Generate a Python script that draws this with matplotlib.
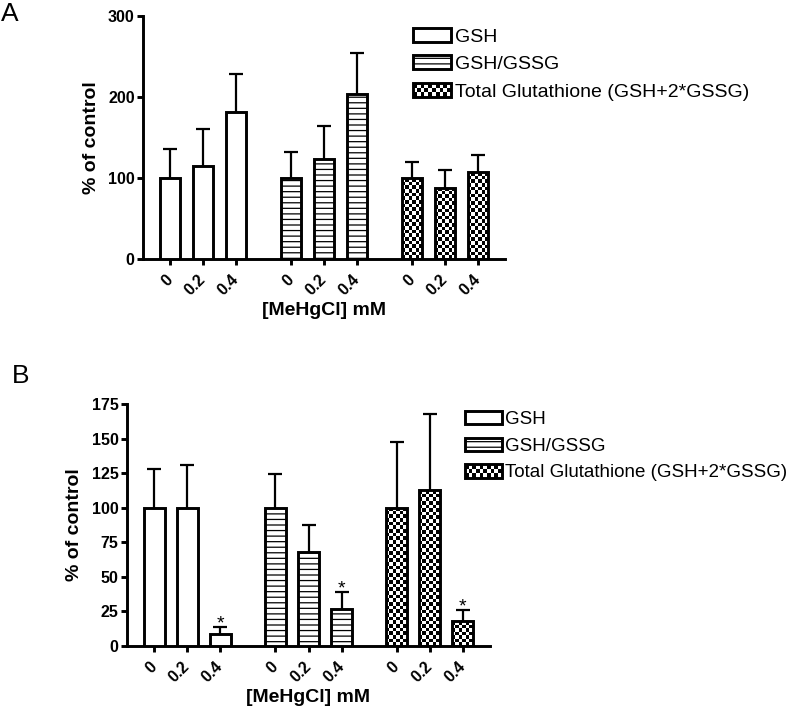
import matplotlib

matplotlib.use("Agg")
import matplotlib.pyplot as plt
import numpy as np
from matplotlib.legend_handler import HandlerBase
from matplotlib.patches import Rectangle

plt.rcParams["font.family"] = ["Liberation Sans", "DejaVu Sans"]
plt.rcParams["hatch.linewidth"] = 0.9

DOSES = ["0", "0.2", "0.4"]
SERIES = ["GSH", "GSH/GSSG", "Total Glutathione (GSH+2*GSSG)"]

# Panel A
A_GSH = [100, 115, 181]
A_GSH_ERR = [36, 45, 47]
A_RATIO = [100, 123, 204]
A_RATIO_ERR = [32, 41, 50]
A_TOTAL = [100, 88, 107]
A_TOTAL_ERR = [20, 22, 21]

# Panel B
B_GSH = [100, 100, 8.7]
B_GSH_ERR = [28, 31, 5]
B_RATIO = [100, 68, 26.7]
B_RATIO_ERR = [24.5, 19.5, 12.5]
B_TOTAL = [100, 112.8, 18]
B_TOTAL_ERR = [47.5, 55, 8]
B_SIGNIF = [[False, False, True], [False, False, True], [False, False, True]]

A_YTICKS = [0, 100, 200, 300]
B_YTICKS = [0, 25, 50, 75, 100, 125, 150, 175]

GROUP_STEP = 3.67
BAR_WIDTH = 0.63
LW = 2.1
CELL_PX = 3.6


def checker_fill(ax, bar):
    x0, y0 = bar.get_x(), bar.get_y()
    w, h = bar.get_width(), bar.get_height()
    (px0, py0), (px1, py1) = ax.transData.transform([(x0, y0), (x0 + w, y0 + h)])
    nx = max(1, int(round((px1 - px0) / CELL_PX)))
    ny = max(1, int(round((py1 - py0) / CELL_PX)))
    grid = np.add.outer(np.arange(ny), np.arange(nx)) % 2
    im = ax.imshow(grid, cmap="gray", extent=(x0, x0 + w, y0, y0 + h), origin="lower",
                   interpolation="nearest", aspect="auto", zorder=2)
    im.set_clip_path(bar)


class CheckerHandler(HandlerBase):
    def create_artists(self, legend, orig_handle, xdescent, ydescent, width, height, fontsize, trans):
        artists = []
        nx, ny = 10, 3
        cw, ch = width / nx, height / ny
        for i in range(nx):
            for j in range(ny):
                if (i + j) % 2 == 0:
                    artists.append(Rectangle((-xdescent + i * cw, -ydescent + j * ch), cw, ch,
                                             facecolor="black", edgecolor="none", transform=trans))
        artists.append(Rectangle((-xdescent, -ydescent), width, height, facecolor="none",
                                 edgecolor="black", linewidth=LW, transform=trans))
        return artists


def draw_panel(fig, rect, values, errors, yticks, legend_anchor, legend_size, signif=None):
    ax = fig.add_axes(rect)
    ymax = yticks[-1]
    ax.set_xlim(-0.82, 2 * GROUP_STEP + 2 + 0.82)
    ax.set_ylim(0, ymax)

    positions = []
    handles = []
    for g, (vals, errs) in enumerate(zip(values, errors)):
        x = g * GROUP_STEP + np.arange(len(DOSES))
        positions.extend(x)
        if g == 0:
            bars = ax.bar(x, vals, BAR_WIDTH, facecolor="white", edgecolor="black", linewidth=LW, zorder=3)
        elif g == 1:
            bars = ax.bar(x, vals, BAR_WIDTH, facecolor="white", edgecolor="black", linewidth=LW,
                          hatch="---", zorder=3)
        else:
            bars = ax.bar(x, vals, BAR_WIDTH, facecolor="none", edgecolor="black", linewidth=LW, zorder=3)
            for b in bars:
                checker_fill(ax, b)
        handles.append(bars)
        tops = np.array(vals) + np.array(errs)
        ax.vlines(x, vals, tops, color="black", linewidth=1.6, zorder=1)
        ax.plot(x, tops, linestyle="none", marker="_", markersize=9.5, markeredgewidth=1.6,
                color="black", zorder=1)
        if signif is not None:
            for xi, top, s in zip(x, tops, signif[g]):
                if s:
                    ax.annotate("*", (xi, top), xytext=(0, -4), textcoords="offset points",
                                ha="center", va="bottom", fontsize=14)

    ax.set_xlim(-0.82, 2 * GROUP_STEP + 2 + 0.82)
    ax.set_ylim(0, ymax)

    for side in ("top", "right"):
        ax.spines[side].set_visible(False)
    for side in ("left", "bottom"):
        ax.spines[side].set_linewidth(LW)

    ax.set_xticks(positions)
    ax.set_xticklabels(DOSES * 3, rotation=45, ha="right", va="center", rotation_mode="anchor",
                       fontweight="bold", fontsize=11.5)
    ax.set_yticks(yticks)
    ax.set_yticklabels([str(t) for t in yticks], fontweight="bold", fontsize=11.5)
    ax.tick_params(axis="both", direction="out", length=4, width=LW, pad=2)
    ax.tick_params(axis="x", pad=9)

    ax.set_xlabel("[MeHgCl] mM", fontweight="bold", fontsize=14, labelpad=3)
    ax.set_ylabel("% of control", fontweight="bold", fontsize=14, labelpad=6)

    fig.legend(handles, SERIES, loc="upper left", bbox_to_anchor=legend_anchor, frameon=False,
               fontsize=legend_size, handlelength=1.95, handleheight=0.72, handletextpad=0.2,
               labelspacing=0.5, borderpad=0, borderaxespad=0,
               handler_map={handles[2]: CheckerHandler()})
    return ax


fig = plt.figure(figsize=(8, 7.16), dpi=100)
W, H = 800, 716

draw_panel(fig, [143 / W, 1 - 259 / H, (505 - 143) / W, (259 - 16) / H],
           [A_GSH, A_RATIO, A_TOTAL], [A_GSH_ERR, A_RATIO_ERR, A_TOTAL_ERR],
           A_YTICKS, (413 / W, 1 - 28 / H), 14)
draw_panel(fig, [127 / W, 1 - 646 / H, (490 - 127) / W, (646 - 404) / H],
           [B_GSH, B_RATIO, B_TOTAL], [B_GSH_ERR, B_RATIO_ERR, B_TOTAL_ERR],
           B_YTICKS, (465 / W, 1 - 411 / H), 13.5, signif=B_SIGNIF)

fig.text(1 / W, 1 - 21 / H, "A", fontsize=19, va="baseline")
fig.text(12 / W, 1 - 383 / H, "B", fontsize=19, va="baseline")

fig.savefig("out.png", dpi=100)
